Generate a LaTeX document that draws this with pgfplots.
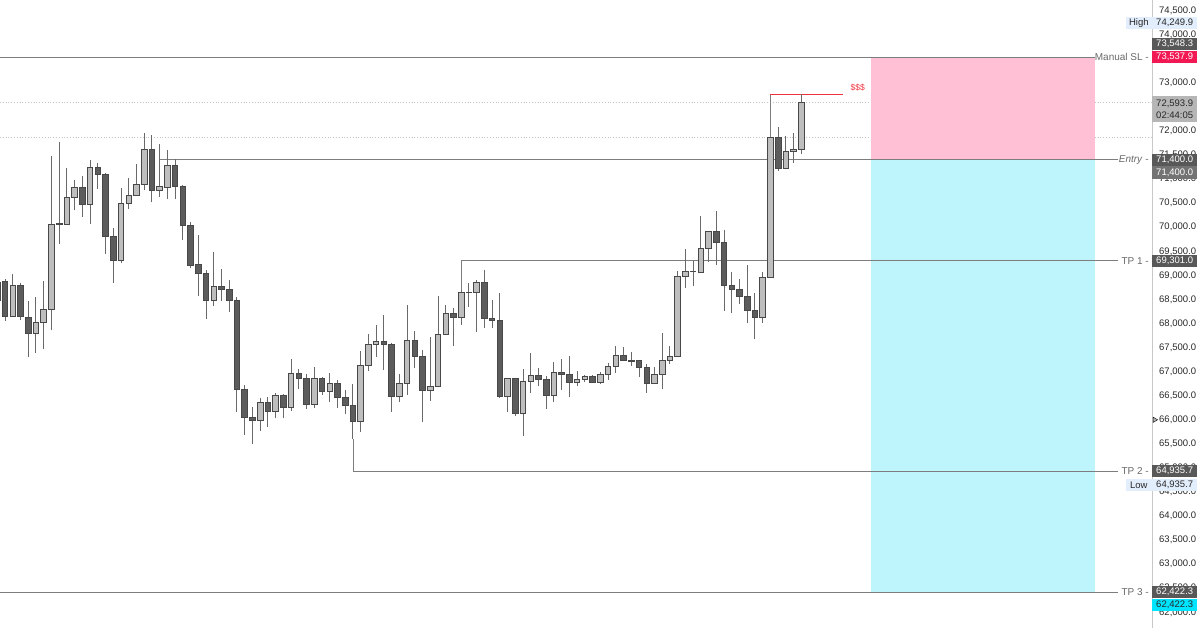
\documentclass[border=0pt]{standalone}
\usepackage{pgfplots}
\pgfplotsset{compat=1.18}
\usepackage{pgfplotstable}
\usepackage{fontspec}
\setmainfont{Liberation Sans}
\definecolor{bearfill}{RGB}{92,92,92}
\definecolor{bullfill}{RGB}{190,190,190}
\definecolor{candleedge}{RGB}{72,72,72}
\definecolor{wickc}{RGB}{105,105,105}
\definecolor{lvl}{RGB}{125,125,125}
\definecolor{slbox}{RGB}{255,192,214}
\definecolor{tpbox}{RGB}{190,245,252}
\definecolor{axisgray}{RGB}{200,200,200}
\definecolor{tickc}{RGB}{40,40,40}
\definecolor{darkbox}{RGB}{88,88,88}
\definecolor{midbox}{RGB}{115,115,115}
\definecolor{redbox}{RGB}{242,24,84}
\definecolor{lightbox}{RGB}{182,182,182}
\definecolor{hlbox}{RGB}{227,238,252}
\definecolor{cyanbox}{RGB}{0,229,255}
\definecolor{lbltext}{RGB}{105,105,105}
\definecolor{dollar}{RGB}{240,50,60}
\definecolor{dotc}{RGB}{195,195,195}

\tikzset{
  pbox/.style={anchor=west, inner sep=0pt, minimum width=45pt, minimum height=12.6pt, font=\fontsize{9.5}{11}\selectfont, text=white},
  lbl/.style={anchor=east, inner sep=0pt, font=\fontsize{10}{12}\selectfont, text=lbltext, xshift=-3pt},
}
\pgfplotsset{
  wick/.style={draw=wickc, line width=0.9pt, mark=none, forget plot},
  bullc/.style={draw=candleedge, fill=bullfill, line width=0.8pt, mark=none, forget plot},
  bearc/.style={draw=candleedge, fill=bearfill, line width=0.8pt, mark=none, forget plot},
  lvlline/.style={draw=lvl, line width=0.9pt, mark=none, forget plot},
}

\pgfplotstableread{
i t o h l c
-1 0 68863 69279 68385 68489
0 0 68869 68925 68053 68156
1 1 68156 69023 68142 68794
2 0 68794 68836 68073 68142
3 0 68136 68468 67298 67797
4 1 67797 68551 67394 68026
5 1 68026 68884 67465 68296
6 1 68296 71481 67866 70068
7 1 70068 71778 69646 70075
8 1 70068 71225 70068 70614
9 1 70614 70982 70353 70837
10 0 70837 71071 70213 70477
11 1 70477 71398 70074 71252
12 0 71252 71329 70795 71101
13 0 71101 71134 69451 69804
14 0 69804 69979 68848 69314
15 1 69314 70810 69251 70498
16 1 70498 71017 70380 70664
17 1 70664 71315 70664 70893
18 1 70893 71965 70768 71626
19 0 71626 71917 70519 70768
20 1 70768 71730 70635 70843
21 1 70831 71605 70587 71288
22 0 71288 71412 70587 70858
23 0 70858 70878 69736 70033
24 0 70033 70103 69147 69216
25 0 69231 69839 68578 69035
26 0 69035 69112 68094 68474
27 1 68474 69492 68371 68765
28 0 68765 69133 68474 68717
29 0 68717 68904 68246 68474
30 0 68474 68558 66168 66634
31 0 66634 66723 65684 66052
32 0 66052 66272 65491 65981
33 1 65981 66447 65767 66355
34 0 66355 66480 65857 66168
35 1 66168 66550 66043 66515
36 0 66515 66540 66043 66251
37 1 66251 67263 66183 66958
38 0 66958 67055 66634 66862
39 0 66862 66945 66218 66322
40 1 66322 67091 66239 66862
41 0 66862 66895 66515 66598
42 1 66598 66966 66376 66750
43 0 66750 66827 66251 66463
44 0 66463 66619 66114 66301
45 0 66301 66744 65595 65960
46 1 65960 67429 65736 67124
47 1 67124 67778 67014 67570
48 1 67568 67969 67311 67623
49 0 67623 68177 67035 67568
50 0 67575 67595 66168 66480
51 1 66480 66945 66376 66758
52 1 66758 68385 66515 67652
53 0 67652 67845 67070 67311
54 0 67311 67450 65948 66619
55 1 66613 67726 66390 66688
56 1 66688 68572 66688 67782
57 1 67782 68385 67782 68213
58 0 68213 68316 67533 68121
59 1 68121 68697 67969 68645
60 1 68645 68836 68339 68650
61 1 68645 68904 67824 68852
62 0 68852 69112 67897 68115
63 0 68115 68489 67901 68067
64 0 68067 68634 66463 66494
65 1 66494 66868 66162 66868
66 0 66868 66875 66085 66141
67 1 66141 67055 65657 66791
68 1 66791 67394 66550 66916
69 0 66916 67076 66696 66841
70 0 66841 66910 66220 66515
71 1 66515 67201 66376 66993
72 0 66993 67263 66625 66951
73 0 66951 67319 66467 66785
74 1 66785 67014 66708 66843
75 1 66841 66931 66791 66895
76 0 66895 66931 66758 66771
77 1 66771 66999 66744 66951
78 1 66951 67174 66827 67103
79 1 67103 67533 66978 67332
80 0 67332 67506 67228 67228
81 0 67228 67415 67118 67218
82 0 67228 67240 66895 67091
83 0 67082 67153 66563 66758
84 1 66758 67103 66758 66951
85 1 66951 67797 66634 67228
86 1 67242 67539 67153 67325
87 1 67325 69091 67325 68981
88 1 68981 69553 68738 69077
89 1 69077 69299 68774 69083
90 1 69056 70234 69056 69563
91 1 69563 69908 69278 69908
92 0 69908 70338 69216 69679
93 0 69679 69933 68260 68786
94 0 68794 69077 68213 68713
95 0 68713 68925 68406 68558
96 0 68568 69210 68005 68267
97 0 68267 68628 67672 68121
98 1 68121 69077 68021 68960
99 1 68960 71869 68960 71869
100 0 71869 72090 71175 71225
101 1 71225 71903 71225 71585
102 1 71585 71952 71329 71626
103 1 71626 72763 71522 72593.9
}\candles

\begin{document}
\begin{tikzpicture}
\begin{axis}[
  set layers,
  clip=false,
  scale only axis,
  width=1152pt, height=628pt,
  xmin=-0.647, xmax=148.36,
  ymin=61674.2, ymax=74722.2,
  axis x line=none,
  axis y line*=right,
  y axis line style={draw=axisgray, line width=0.8pt},
  xtick=\empty,
  ytick={62000,62500,63000,63500,64000,64500,65000,65500,66000,66500,67000,67500,68000,68500,69000,69500,70000,70500,71000,71500,72000,72500,73000,73500,74000,74500},
  scaled y ticks=false,
  major tick length=0pt,
  yticklabel style={font=\fontsize{9.5}{11}\selectfont, text=tickc, anchor=west, inner sep=0pt, xshift=7pt,
    /pgf/number format/.cd, fixed, fixed zerofill, precision=1, 1000 sep={,}, assume math mode=true},
]
% dotted price lines
\addplot[draw=dotc, dotted, line width=0.8pt, forget plot] coordinates {(-0.647,72593.9) (148.36,72593.9)};
\addplot[draw=dotc, dotted, line width=0.8pt, forget plot] coordinates {(-0.647,71869) (148.36,71869)};
% risk / reward boxes
\addplot[fill=slbox, draw=none, forget plot] coordinates {(112.02,71400) (141.0,71400) (141.0,73537.9) (112.02,73537.9)} -- cycle;
\addplot[fill=tpbox, draw=none, forget plot] coordinates {(112.02,62422.3) (141.0,62422.3) (141.0,71400) (112.02,71400)} -- cycle;
% level lines
\addplot[lvlline] coordinates {(-0.647,73537.9) (141.0,73537.9)};
\addplot[lvlline] coordinates {(20.05,71400) (143.97,71400)};
\addplot[lvlline] coordinates {(58.98,68645) (58.98,69301) (143.97,69301)};
\addplot[lvlline] coordinates {(45.01,65595) (45.01,64935.7) (143.97,64935.7)};
\addplot[lvlline] coordinates {(-0.647,62422.3) (143.97,62422.3)};
\addplot[lvlline] coordinates {(98.95,71869) (98.95,72763)};
\addplot[draw=dollar, line width=0.9pt, mark=none, forget plot] coordinates {(98.95,72763) (108.4,72763)};
\node[text=dollar, font=\fontsize{8.5}{10}\selectfont, inner sep=0pt] at (axis cs:110.3,72905) {\$\$\$};
% candles
\pgfplotstablegetrowsof{\candles}
\pgfmathtruncatemacro\nrows{\pgfplotsretval-1}
\pgfplotsforeachungrouped \r in {0,...,\nrows}{%
  \pgfplotstablegetelem{\r}{i}\of\candles \let\ci\pgfplotsretval
  \pgfplotstablegetelem{\r}{t}\of\candles \let\ct\pgfplotsretval
  \pgfplotstablegetelem{\r}{o}\of\candles \let\co\pgfplotsretval
  \pgfplotstablegetelem{\r}{h}\of\candles \let\ch\pgfplotsretval
  \pgfplotstablegetelem{\r}{l}\of\candles \let\cl\pgfplotsretval
  \pgfplotstablegetelem{\r}{c}\of\candles \let\cc\pgfplotsretval
  \pgfmathsetmacro\xl{\ci-0.36}%
  \pgfmathsetmacro\xr{\ci+0.36}%
  \ifnum\ct=1 \def\cst{bullc}\else\def\cst{bearc}\fi
  \edef\doit{%
    \noexpand\addplot[wick] coordinates {(\ci,\cl) (\ci,\ch)};
    \noexpand\addplot[\cst] coordinates {(\xl,\co) (\xr,\co) (\xr,\cc) (\xl,\cc)} -- cycle;
  }\doit
}
% axis marker
\addplot[only marks, mark=triangle*, mark size=3pt, mark options={rotate=-90, fill=lightbox, draw=none}, forget plot] coordinates {(148.7,66000)};
% labels left of the price scale
\node[lbl] at (axis cs:148.36,73537.9) {Manual SL -};
\node[lbl] at (axis cs:148.36,71400) {\textit{Entry} -};
\node[lbl] at (axis cs:148.36,69301) {TP 1 -};
\node[lbl] at (axis cs:148.36,64935.7) {TP 2 -};
\node[lbl] at (axis cs:148.36,62422.3) {TP 3 -};
% price scale boxes
\node[pbox, anchor=east, minimum width=26pt, fill=hlbox, text=tickc] at (axis cs:148.36,74244) {High};
\node[pbox, fill=hlbox, text=tickc] at (axis cs:148.36,74244) {74,249.9};
\node[pbox, fill=darkbox] at (axis cs:148.36,73808) {73,548.3};
\node[pbox, fill=redbox] at (axis cs:148.36,73537.9) {73,537.9};
\node[pbox, fill=lightbox, text=tickc, minimum height=26pt, align=center, font=\fontsize{9.5}{12.5}\selectfont] at (axis cs:148.36,72455) {72,593.9\\02:44:05};
\node[pbox, fill=darkbox] at (axis cs:148.36,71400) {71,400.0};
\node[pbox, fill=midbox] at (axis cs:148.36,71138) {71,400.0};
\node[pbox, fill=darkbox] at (axis cs:148.36,69301) {69,301.0};
\node[pbox, fill=darkbox] at (axis cs:148.36,64935.7) {64,935.7};
\node[pbox, anchor=east, minimum width=26pt, fill=hlbox, text=tickc] at (axis cs:148.36,64645) {Low};
\node[pbox, fill=hlbox, text=tickc] at (axis cs:148.36,64645) {64,935.7};
\node[pbox, fill=darkbox] at (axis cs:148.36,62422.3) {62,422.3};
\node[pbox, fill=cyanbox, text=tickc] at (axis cs:148.36,62152) {62,422.3};
\end{axis}
\pgfresetboundingbox
\path (0,0) rectangle (1200pt,628pt);
\end{tikzpicture}
\end{document}
